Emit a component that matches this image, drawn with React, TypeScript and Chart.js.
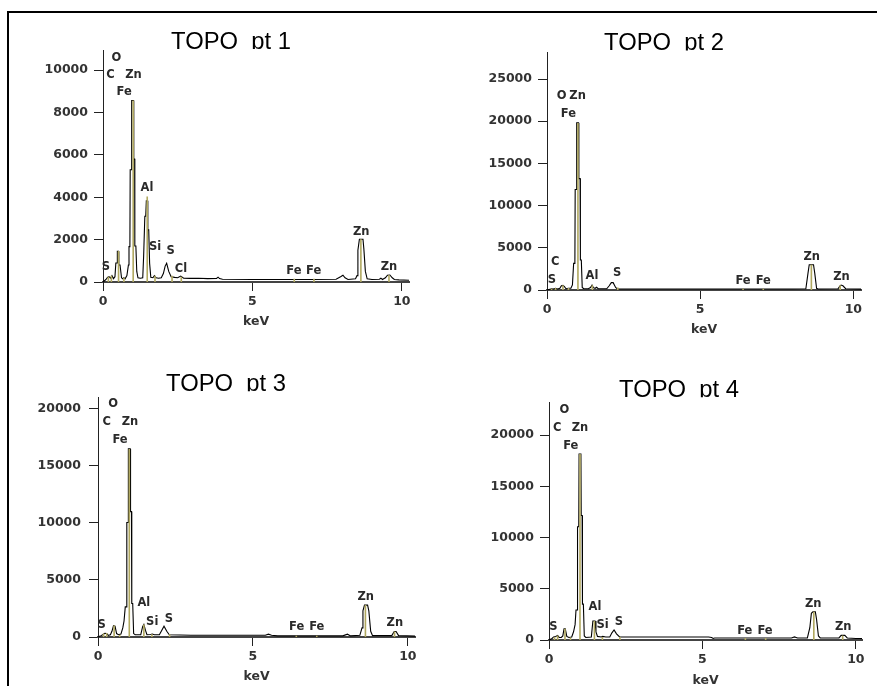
import React, { useEffect, useRef } from "react";
import { Chart, registerables } from "chart.js";

Chart.register(...registerables);

type Pair = [number, number];
type Label = [string, number, number];

// ---------------- shared ----------------
const xTicks = [0, 5, 10];
const xTitle = "keV";

// ---------------- TOPO pt 1 ----------------
const pt1Title = "TOPO  pt 1";
const pt1YTicks = [0, 2000, 4000, 6000, 8000, 10000];
const pt1YMax = 10950;
const pt1XMax = 10.24;
const pt1Spectrum: Pair[] = [
  [0, 0], [0.05, 60], [0.1, 120], [0.15, 220], [0.2, 250], [0.25, 180], [0.3, 300], [0.35, 160],
  [0.4, 250], [0.43, 900], [0.47, 900], [0.48, 1450], [0.52, 1450], [0.53, 800], [0.57, 800],
  [0.62, 200], [0.66, 150], [0.7, 200], [0.74, 150], [0.8, 300], [0.85, 800], [0.87, 1670],
  [0.9, 1670], [0.91, 5300], [0.95, 5300], [0.96, 8570], [1.02, 8570], [1.03, 5800], [1.06, 5800],
  [1.065, 1700], [1.1, 1700], [1.13, 500], [1.17, 200], [1.25, 180], [1.33, 200], [1.36, 1230],
  [1.4, 3100], [1.43, 3100], [1.45, 3830], [1.49, 3830], [1.5, 2460], [1.53, 2460], [1.56, 880],
  [1.6, 220], [1.67, 200], [1.72, 300], [1.78, 200], [1.86, 180], [1.95, 200], [2.02, 400],
  [2.08, 750], [2.13, 880], [2.2, 500], [2.28, 250], [2.4, 220], [2.5, 200], [2.6, 280], [2.7, 180],
  [2.9, 170], [3.2, 180], [3.5, 160], [3.8, 170], [3.85, 230], [3.9, 160], [4.0, 130], [5.0, 120],
  [6.0, 120], [7.0, 120], [7.8, 130], [7.95, 250], [8.03, 320], [8.1, 200], [8.2, 120], [8.45, 150],
  [8.5, 300], [8.53, 1500], [8.58, 2020], [8.7, 2020], [8.73, 1550], [8.78, 500], [8.84, 150],
  [9.0, 120], [9.25, 130], [9.3, 180], [9.35, 120], [9.45, 200], [9.52, 320], [9.6, 330],
  [9.68, 200], [9.75, 120], [9.9, 100], [10.24, 80],
];
const pt1LineEnergies = [0.18, 0.28, 0.52, 0.7, 1.01, 1.48, 1.74, 2.31, 2.62, 6.4, 7.06, 8.63, 9.57];
const pt1LineHeights = [250, 300, 1460, 200, 8570, 4030, 300, 300, 250, 150, 150, 2020, 330];
const pt1Labels: Label[] = [
  ["O", 0.45, 10590], ["C", 0.25, 9760], ["Zn", 1.02, 9760], ["Fe", 0.71, 8950],
  ["S", 0.1, 710], ["Al", 1.47, 4440], ["Si", 1.74, 1670], ["S", 2.26, 1480], ["Cl", 2.61, 630],
  ["Fe", 6.39, 520], ["Fe", 7.05, 520], ["Zn", 8.64, 2380], ["Zn", 9.57, 720],
];

// ---------------- TOPO pt 2 ----------------
const pt2Title = "TOPO  pt 2";
const pt2YTicks = [0, 5000, 10000, 15000, 20000, 25000];
const pt2YMax = 28200;
const pt2XMax = 10.25;
const pt2Spectrum: Pair[] = [
  [0, 0], [0.05, 50], [0.1, 100], [0.15, 150], [0.2, 120], [0.28, 200], [0.35, 120], [0.42, 200],
  [0.47, 500], [0.52, 550], [0.57, 400], [0.62, 150], [0.7, 200], [0.78, 200], [0.83, 600],
  [0.87, 3160], [0.91, 3160], [0.92, 11900], [0.96, 11900], [0.97, 19800], [1.03, 19800],
  [1.04, 13200], [1.08, 13200], [1.09, 3560], [1.12, 3560], [1.15, 300], [1.2, 150], [1.35, 150],
  [1.42, 300], [1.47, 580], [1.52, 250], [1.57, 200], [1.62, 320], [1.67, 150], [1.95, 150],
  [2.03, 500], [2.1, 870], [2.16, 870], [2.24, 300], [2.3, 130], [3.0, 120], [5.0, 120], [8.0, 120],
  [8.45, 150], [8.52, 2000], [8.56, 3000], [8.7, 3000], [8.74, 2000], [8.8, 200], [8.85, 120],
  [9.5, 150], [9.56, 450], [9.6, 580], [9.66, 500], [9.75, 150], [10.0, 120], [10.25, 100],
];
const pt2LineEnergies = [0.15, 0.28, 0.52, 0.7, 1.01, 1.48, 2.31, 6.4, 7.06, 8.63, 9.57];
const pt2LineHeights = [150, 250, 550, 250, 19800, 550, 300, 150, 150, 3000, 550];
const pt2Labels: Label[] = [
  ["O", 0.48, 22950], ["Zn", 1.0, 22950], ["Fe", 0.7, 20850], ["C", 0.27, 3290], ["S", 0.16, 1185],
  ["Al", 1.47, 1660], ["S", 2.29, 1975], ["Fe", 6.4, 1100], ["Fe", 7.06, 1100],
  ["Zn", 8.64, 3950], ["Zn", 9.61, 1580],
];

// ---------------- TOPO pt 3 ----------------
const pt3Title = "TOPO  pt 3";
const pt3YTicks = [0, 5000, 10000, 15000, 20000];
const pt3YMax = 21050;
const pt3XMax = 10.23;
const pt3Spectrum: Pair[] = [
  [0, 0], [0.05, 60], [0.1, 120], [0.15, 200], [0.22, 330], [0.28, 300], [0.33, 150], [0.4, 200],
  [0.45, 500], [0.5, 1000], [0.55, 950], [0.6, 300], [0.66, 200], [0.74, 250], [0.8, 800],
  [0.84, 1400], [0.88, 2640], [0.92, 2640], [0.93, 10040], [0.97, 10040], [0.98, 16500],
  [1.04, 16500], [1.05, 11000], [1.08, 11000], [1.09, 2940], [1.12, 2940], [1.15, 300], [1.2, 200],
  [1.38, 200], [1.44, 900], [1.48, 1100], [1.53, 600], [1.58, 200], [1.7, 220], [1.75, 260],
  [1.82, 200], [1.98, 200], [2.06, 600], [2.13, 950], [2.22, 500], [2.3, 200], [3.0, 160],
  [5.4, 160], [5.5, 250], [5.6, 150], [5.8, 100], [7.9, 100], [8.05, 250], [8.15, 100], [8.45, 150],
  [8.52, 800], [8.55, 2300], [8.6, 2800], [8.7, 2800], [8.74, 2300], [8.8, 500], [8.86, 120],
  [9.48, 120], [9.56, 480], [9.62, 480], [9.7, 120], [10.23, 80],
];
const pt3LineEnergies = [0.18, 0.28, 0.52, 0.7, 1.01, 1.48, 1.74, 2.31, 6.4, 7.06, 8.63, 9.57];
const pt3LineHeights = [300, 350, 1000, 200, 16500, 1100, 250, 250, 120, 120, 2800, 480];
const pt3Labels: Label[] = [
  ["O", 0.49, 20440], ["C", 0.28, 18870], ["Zn", 1.03, 18870], ["Fe", 0.71, 17290],
  ["S", 0.12, 1030], ["Al", 1.48, 2940], ["Si", 1.75, 1315], ["S", 2.29, 1620],
  ["Fe", 6.41, 880], ["Fe", 7.06, 880], ["Zn", 8.64, 3520], ["Zn", 9.58, 1270],
];

// ---------------- TOPO pt 4 ----------------
const pt4Title = "TOPO  pt 4";
const pt4YTicks = [0, 5000, 10000, 15000, 20000];
const pt4YMax = 23220;
const pt4XMax = 10.2;
const pt4Spectrum: Pair[] = [
  [0, 0], [0.05, 80], [0.1, 150], [0.15, 300], [0.22, 350], [0.28, 450], [0.33, 250], [0.4, 250],
  [0.45, 400], [0.49, 1100], [0.53, 1100], [0.58, 350], [0.65, 250], [0.74, 300], [0.8, 800],
  [0.85, 1500], [0.88, 2930], [0.92, 2930], [0.93, 11050], [0.97, 11050], [0.98, 18150],
  [1.04, 18150], [1.05, 12150], [1.08, 12150], [1.09, 3500], [1.12, 3500], [1.15, 400], [1.2, 250],
  [1.38, 300], [1.43, 1850], [1.5, 1850], [1.53, 800], [1.58, 350], [1.7, 300], [1.75, 350],
  [1.85, 300], [1.98, 300], [2.05, 700], [2.12, 980], [2.2, 600], [2.3, 300], [3.0, 300],
  [5.2, 300], [5.3, 250], [5.35, 150], [5.4, 200], [7.9, 200], [8.0, 300], [8.1, 200], [8.42, 200],
  [8.5, 1200], [8.55, 2600], [8.6, 2750], [8.68, 2750], [8.72, 2000], [8.78, 400], [8.84, 200],
  [9.45, 200], [9.52, 450], [9.64, 450], [9.72, 200], [10.0, 150], [10.2, 150],
];
const pt4LineEnergies = [0.18, 0.28, 0.52, 0.7, 1.01, 1.48, 1.74, 2.31, 6.4, 7.06, 8.63, 9.57];
const pt4LineHeights = [300, 450, 1100, 250, 18150, 1850, 300, 300, 200, 200, 2750, 450];
const pt4Labels: Label[] = [
  ["O", 0.5, 22440], ["C", 0.27, 20650], ["Zn", 1.01, 20650], ["Fe", 0.71, 18930],
  ["S", 0.14, 1240], ["Al", 1.5, 3250], ["Si", 1.75, 1460], ["S", 2.28, 1790],
  ["Fe", 6.38, 910], ["Fe", 7.04, 910], ["Zn", 8.61, 3510], ["Zn", 9.59, 1240],
];

// ---------------- panel assembly (data) ----------------
const panelData = [
  { title: pt1Title, spectrum: pt1Spectrum, energies: pt1LineEnergies, heights: pt1LineHeights, labels: pt1Labels, yTicks: pt1YTicks, yMax: pt1YMax, xMax: pt1XMax },
  { title: pt2Title, spectrum: pt2Spectrum, energies: pt2LineEnergies, heights: pt2LineHeights, labels: pt2Labels, yTicks: pt2YTicks, yMax: pt2YMax, xMax: pt2XMax },
  { title: pt3Title, spectrum: pt3Spectrum, energies: pt3LineEnergies, heights: pt3LineHeights, labels: pt3Labels, yTicks: pt3YTicks, yMax: pt3YMax, xMax: pt3XMax },
  { title: pt4Title, spectrum: pt4Spectrum, energies: pt4LineEnergies, heights: pt4LineHeights, labels: pt4Labels, yTicks: pt4YTicks, yMax: pt4YMax, xMax: pt4XMax },
];

// ---------------- layout (styles / positions) ----------------
const panelLayout = [
  { box: { left: 10, top: 14, width: 420, height: 315 }, area: { left: 103, top: 50, right: 409, bottom: 282 }, titleCx: 231, titleBase: 48.5, yPad: 6 },
  { box: { left: 445, top: 14, width: 430, height: 323 }, area: { left: 547, top: 52, right: 861, bottom: 290 }, titleCx: 664, titleBase: 50, yPad: 6 },
  { box: { left: 10, top: 350, width: 420, height: 334 }, area: { left: 98, top: 397, right: 415, bottom: 637 }, titleCx: 226, titleBase: 390.7, yPad: 8 },
  { box: { left: 445, top: 355, width: 430, height: 333 }, area: { left: 549, top: 402, right: 862, bottom: 640 }, titleCx: 679, titleBase: 396.7, yPad: 6 },
];

const TICK_FONT = { family: "'DejaVu Sans', Verdana, sans-serif", size: 12.5, weight: "bold" as const };
const OLIVE = "rgb(176,168,96)";

const annotatePlugin = {
  id: "annotate",
  afterDatasetsDraw(chart: any, _args: any, opts: any) {
    const ctx = chart.ctx as CanvasRenderingContext2D;
    const xs = chart.scales.x;
    const ys = chart.scales.y;
    ctx.save();
    ctx.font = "bold 11.5px 'DejaVu Sans', Verdana, sans-serif";
    ctx.fillStyle = "#2a2a2a";
    ctx.textAlign = "center";
    ctx.textBaseline = "middle";
    for (const [t, k, c] of opts.labels as Label[]) {
      ctx.fillText(t, xs.getPixelForValue(k), ys.getPixelForValue(c));
    }
    ctx.restore();
    ctx.save();
    ctx.beginPath();
    ctx.rect(0, 0, chart.width, opts.titleBase + 0.6);
    ctx.clip();
    ctx.font = "23.8px 'Liberation Sans', Arial, sans-serif";
    ctx.fillStyle = "#000";
    ctx.textAlign = "center";
    ctx.textBaseline = "alphabetic";
    ctx.fillText(opts.title, opts.titleX, opts.titleBase);
    ctx.restore();
  },
};

function Panel({ index }: { index: number }) {
  const ref = useRef<HTMLCanvasElement | null>(null);
  const d = panelData[index];
  const L = panelLayout[index];

  useEffect(() => {
    if (!ref.current) return;
    const yWidth = L.area.left - L.box.left;
    const xHeight = L.box.top + L.box.height - L.area.bottom;
    const markerData: any[] = [];
    d.energies.forEach((e, i) => {
      markerData.push({ x: e, y: 0 }, { x: e, y: d.heights[i] }, { x: e, y: null });
    });
    const chart = new Chart(ref.current, {
      type: "line",
      data: {
        datasets: [
          {
            label: "lines",
            data: markerData,
            borderColor: OLIVE,
            borderWidth: 1.6,
            pointRadius: 0,
            spanGaps: false,
            tension: 0,
          },
          {
            label: "spectrum",
            data: d.spectrum.map(([x, y]) => ({ x, y })),
            borderColor: "#000",
            borderWidth: 1.1,
            pointRadius: 0,
            tension: 0,
          },
        ],
      },
      options: {
        animation: false,
        responsive: false,
        events: [],
        layout: {
          padding: {
            left: 0,
            bottom: 0,
            top: L.area.top - L.box.top,
            right: L.box.left + L.box.width - L.area.right,
          },
        },
        plugins: {
          legend: { display: false },
          tooltip: { enabled: false },
          annotate: {
            labels: d.labels,
            title: d.title,
            titleX: L.titleCx - L.box.left,
            titleBase: L.titleBase - L.box.top,
          },
        } as any,
        scales: {
          x: {
            type: "linear",
            min: 0,
            max: d.xMax,
            afterBuildTicks: (s: any) => {
              s.ticks = xTicks.map((v) => ({ value: v }));
            },
            afterFit: (s: any) => {
              s.height = xHeight;
              s.paddingLeft = 0;
              s.paddingRight = 0;
              s.paddingTop = 0;
              s.paddingBottom = 0;
            },
            ticks: {
              callback: (v: any) => String(v),
              font: TICK_FONT,
              color: "#333",
              padding: 3,
              maxRotation: 0,
              autoSkip: false,
            },
            grid: { drawOnChartArea: false, drawTicks: true, tickLength: 9, tickColor: "#222", tickWidth: 1 },
            border: { display: true, color: "#444", width: 2 },
            title: { display: true, text: xTitle, font: TICK_FONT, color: "#333", padding: { top: 0, bottom: 0 } },
          },
          y: {
            type: "linear",
            min: 0,
            max: d.yMax,
            afterBuildTicks: (s: any) => {
              s.ticks = d.yTicks.map((v) => ({ value: v }));
            },
            afterFit: (s: any) => {
              s.width = yWidth;
              s.paddingLeft = 0;
              s.paddingRight = 0;
              s.paddingTop = 0;
              s.paddingBottom = 0;
            },
            ticks: {
              callback: (v: any) => String(v),
              font: TICK_FONT,
              color: "#333",
              padding: L.yPad,
              autoSkip: false,
            },
            grid: { drawOnChartArea: false, drawTicks: true, tickLength: 9, tickColor: "#222", tickWidth: 1 },
            border: { display: true, color: "#222", width: 1 },
          },
        },
      },
      plugins: [annotatePlugin],
    } as any);
    return () => chart.destroy();
  }, []);

  return (
    <canvas
      ref={ref}
      width={L.box.width}
      height={L.box.height}
      style={{
        position: "absolute",
        left: L.box.left,
        top: L.box.top,
        width: L.box.width,
        height: L.box.height,
      }}
    />
  );
}

export default function App() {
  return (
    <div
      style={{
        position: "absolute",
        left: 0,
        top: 0,
        width: 877,
        height: 686,
        overflow: "hidden",
        background: "#fff",
      }}
    >
      <div
        style={{
          position: "absolute",
          left: 7,
          top: 11,
          width: 900,
          height: 700,
          borderTop: "2px solid #000",
          borderLeft: "2px solid #000",
        }}
      />
      {[0, 1, 2, 3].map((i) => (
        <Panel key={i} index={i} />
      ))}
    </div>
  );
}
